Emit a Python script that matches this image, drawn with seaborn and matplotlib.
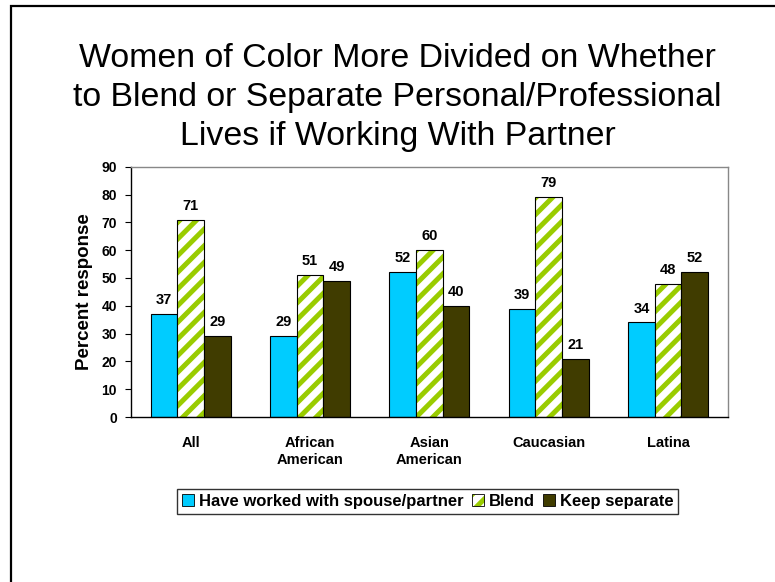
import pandas as pd
import seaborn as sns
import matplotlib.pyplot as plt
from matplotlib.patches import Patch, Rectangle
from matplotlib.colors import to_rgba

groups = ['All', 'African\nAmerican', 'Asian\nAmerican', 'Caucasian', 'Latina']
series = ['Have worked with spouse/partner', 'Blend', 'Keep separate']
worked = [37, 29, 52, 39, 34]
blend = [71, 51, 60, 79, 48]
separate = [29, 49, 40, 21, 52]

colors = ['#00CCFF', '#FFFFFF', '#403C00']
hatch_green = '#99CC00'

df = pd.DataFrame({
    'group': groups * 3,
    'series': [series[0]] * 5 + [series[1]] * 5 + [series[2]] * 5,
    'value': worked + blend + separate,
})

sns.set_style('white')
plt.rcParams['font.family'] = ['Liberation Sans', 'DejaVu Sans']
plt.rcParams['text.color'] = 'black'
plt.rcParams['axes.labelcolor'] = 'black'
plt.rcParams['xtick.color'] = 'black'
plt.rcParams['ytick.color'] = 'black'
plt.rcParams['hatch.linewidth'] = 3.6

fig = plt.figure(figsize=(7.75, 5.82), dpi=100)
ax = fig.add_axes([0.169, 0.2835, 0.77, 0.43])

sns.barplot(data=df, x='group', y='value', hue='series', hue_order=series,
            palette=colors, saturation=1, width=0.67, edgecolor='black',
            linewidth=0.8, legend=False, ax=ax)

# stripes on the "Blend" bars, keep black outline
for p in ax.containers[1]:
    p.set_hatch('//')
    p._hatch_color = to_rgba(hatch_green)

for c in ax.containers:
    ax.bar_label(c, fontsize=10.5, fontweight='bold', padding=5)

ax.set_ylim(0, 90)
ax.set_yticks(range(0, 91, 10))
ax.set_xlabel('')
ax.set_ylabel('Percent response', fontsize=13.5, fontweight='bold', labelpad=6)
ax.tick_params(axis='y', labelsize=10, length=4, width=0.8, left=True, pad=6)
ax.tick_params(axis='x', labelsize=10.5, length=0, pad=14)
for lab in ax.get_xticklabels() + ax.get_yticklabels():
    lab.set_fontweight('bold')

for s in ['left', 'bottom']:
    ax.spines[s].set_color('black')
    ax.spines[s].set_linewidth(1.0)
for s in ['top', 'right']:
    ax.spines[s].set_color('#888888')
    ax.spines[s].set_linewidth(1.0)

handles = []
for i, name in enumerate(series):
    if i == 1:
        h = Patch(facecolor='white', edgecolor='black', linewidth=0.6, label=name)
        h.set_hatch('//')
        h._hatch_color = to_rgba(hatch_green)
    else:
        h = Patch(facecolor=colors[i], edgecolor='black', linewidth=0.6, label=name)
    handles.append(h)

leg = fig.legend(handles=handles, loc='center', bbox_to_anchor=(0.552, 0.139),
                 ncol=3, fontsize=12, frameon=True, fancybox=False,
                 handlelength=0.7, handleheight=0.7, handletextpad=0.3,
                 columnspacing=0.5, borderpad=0.3, borderaxespad=0)
leg.get_frame().set_edgecolor('black')
leg.get_frame().set_linewidth(1.0)
for t in leg.get_texts():
    t.set_fontweight('bold')

fig.text(0.513, 0.833,
         'Women of Color More Divided on Whether\n'
         'to Blend or Separate Personal/Professional\n'
         'Lives if Working With Partner',
         ha='center', va='center', fontsize=24.4, linespacing=1.33)

# slide border (left and top edges visible)
fig.add_artist(Rectangle((11 / 775, -0.05), 1.0, 1.0397, transform=fig.transFigure,
                         fill=False, edgecolor='black', linewidth=1.6))

fig.savefig('out.png', dpi=100)
